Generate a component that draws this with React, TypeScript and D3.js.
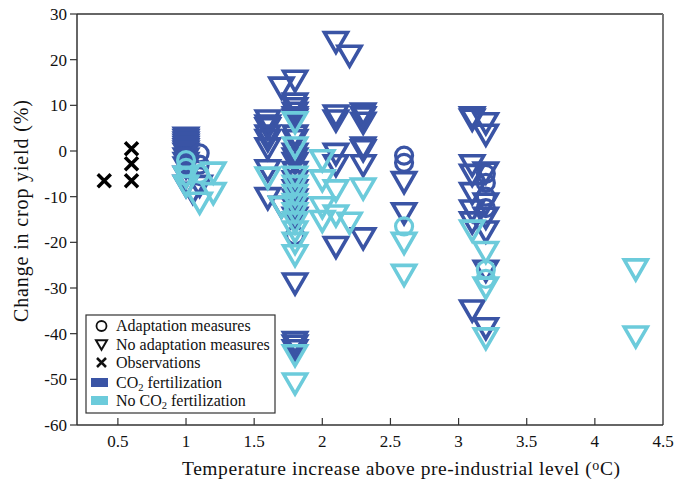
import React from "react";
import * as d3 from "d3";

// ---- data ----
const xTicks = [0.5, 1, 1.5, 2, 2.5, 3, 3.5, 4, 4.5];
const yTicks = [30, 20, 10, 0, -10, -20, -30, -40, -50, -60];

// Observations (black crosses) [temperature, change]
const observations: [number, number][] = [
  [0.4, -6.5], [0.6, 0.5], [0.6, -2.8], [0.6, -6.5],
];

// Adaptation measures + CO2 fertilization (dark circles)
const adaptCO2: [number, number][] = [
  [1.1, -0.5], [1.1, -3], [1.1, -5.5], [1.8, -18.5],
  [2.6, -1], [2.6, -2.6], [3.2, -5], [3.2, -7], [3.2, -10], [3.2, -12.5],
];

// Adaptation measures, no CO2 fertilization (cyan circles)
const adaptNoCO2: [number, number][] = [
  [1.0, -2], [1.0, -3.7], [1.0, -5.5], [1.1, -5],
  [2.6, -16.5], [3.2, -26], [3.2, -28],
];

// No adaptation + CO2 fertilization (dark triangles)
const noAdaptCO2: [number, number][] = [
  [1.0, 3.5], [1.0, 3], [1.0, 2.5], [1.0, 2], [1.0, 1.5], [1.0, 1], [1.0, 0.5], [1.0, 0],
  [1.0, -1], [1.0, -2], [1.0, -3], [1.0, -5], [1.0, -7], [1.05, -8.5], [1.1, -7],
  [1.6, 7.3], [1.6, 6.2], [1.6, 5.6], [1.6, 4], [1.6, 3], [1.6, 1.2], [1.6, -3.6], [1.6, -9.7],
  [1.7, 14.5], [1.7, -11.6],
  [1.8, 16], [1.8, 11], [1.8, 10], [1.8, 9], [1.8, 8], [1.8, 7.5], [1.8, 4], [1.8, 3],
  [1.8, 0], [1.8, -1], [1.8, -2], [1.8, -4], [1.8, -6], [1.8, -8], [1.8, -10], [1.8, -12],
  [1.8, -14], [1.8, -28.4], [1.8, -41.2], [1.8, -42], [1.8, -43],
  [2.1, 24.5], [2.1, 8.4], [2.1, 7.3], [2.1, 0], [2.1, -2.5], [2.1, -20.4],
  [2.2, 21.5],
  [2.3, 8.8], [2.3, 8], [2.3, 6.8], [2.3, 1.4], [2.3, 0.8], [2.3, -2.5], [2.3, -18.5],
  [2.6, -6.2], [2.6, -13],
  [3.1, 8], [3.1, 7.5], [3.1, -2.5], [3.1, -4.6], [3.1, -8.6], [3.1, -12.4], [3.1, -15], [3.1, -34.3],
  [3.2, 6.7], [3.2, 4.2], [3.2, -4.1], [3.2, -10.9], [3.2, -14], [3.2, -17], [3.2, -25.6], [3.2, -38.2],
];

// No adaptation, no CO2 fertilization (cyan triangles)
const noAdaptNoCO2: [number, number][] = [
  [1.0, -5], [1.0, -7], [1.1, -10.7], [1.2, -4.1], [1.2, -8.6],
  [1.6, -5.2], [1.7, -11.6],
  [1.8, 6.9], [1.8, 1.4], [1.8, -5], [1.8, -7], [1.8, -9], [1.8, -11], [1.8, -13],
  [1.8, -15], [1.8, -17], [1.8, -19.5], [1.8, -22.2], [1.8, -44.1], [1.8, -50.3],
  [2.0, -1.4], [2.0, -5.8], [2.0, -11.7], [2.0, -14.7],
  [2.1, -8], [2.1, -13.5], [2.2, -15.1], [2.3, -7.6],
  [2.6, -19.5], [2.6, -26.5],
  [3.1, -16.8], [3.2, -21.5], [3.2, -29.3], [3.2, -40.4],
  [4.3, -25.3], [4.3, -40],
];

const DARK = "#3a54a5";
const CYAN = "#6ccbdb";
const FONT = "'Liberation Serif', 'DejaVu Serif', serif";

const W = 681;
const H = 483;
const M = { left: 77, right: 663, top: 14, bottom: 425 };

const x = d3.scaleLinear().domain([0.2, 4.5]).range([M.left, M.right]);
const y = d3.scaleLinear().domain([-60, 30]).range([M.bottom, M.top]);

function triPath(cx: number, cy: number, s: number) {
  const h = (s * Math.sqrt(3)) / 2;
  return `M${cx - s / 2},${cy - h / 3}L${cx + s / 2},${cy - h / 3}L${cx},${cy + (2 * h) / 3}Z`;
}
function crossPath(cx: number, cy: number, r: number) {
  return `M${cx - r},${cy - r}L${cx + r},${cy + r}M${cx - r},${cy + r}L${cx + r},${cy - r}`;
}

export default function App() {
  const TS = 23;
  return (
    <svg width={W} height={H} style={{ position: "absolute", left: 0, top: 0, fontFamily: FONT }}>
      <rect x={0} y={0} width={W} height={H} fill="#fff" />
      {/* markers */}
      <g fill="none" strokeLinejoin="miter">
        {noAdaptCO2.map((d, i) => (
          <path key={"a" + i} d={triPath(x(d[0]), y(d[1]), TS)} stroke={DARK} strokeWidth={3.6} />
        ))}
        {adaptCO2.map((d, i) => (
          <circle key={"b" + i} cx={x(d[0])} cy={y(d[1])} r={8.5} stroke={DARK} strokeWidth={3.2} />
        ))}
        {noAdaptNoCO2.map((d, i) => (
          <path key={"c" + i} d={triPath(x(d[0]), y(d[1]), TS)} stroke={CYAN} strokeWidth={3.6} />
        ))}
        {adaptNoCO2.map((d, i) => (
          <circle key={"d" + i} cx={x(d[0])} cy={y(d[1])} r={8.5} stroke={CYAN} strokeWidth={3.2} />
        ))}
        {observations.map((d, i) => (
          <path key={"e" + i} d={crossPath(x(d[0]), y(d[1]), 6.5)} stroke="#000" strokeWidth={3.5} />
        ))}
      </g>

      {/* frame */}
      <line x1={M.left} x2={M.right} y1={M.top} y2={M.top} stroke="#333" strokeWidth={1.5} />
      <line x1={M.right} x2={M.right} y1={M.top} y2={M.bottom} stroke="#777" strokeWidth={2} />
      <line x1={M.left} x2={M.right} y1={M.bottom} y2={M.bottom} stroke="#333" strokeWidth={1.5} />
      <line x1={M.left} x2={M.left} y1={M.top} y2={M.bottom} stroke="#333" strokeWidth={1.5} />

      {/* y axis */}
      {yTicks.map((t) => (
        <g key={"y" + t}>
          <line x1={M.left - 7} x2={M.left} y1={y(t)} y2={y(t)} stroke="#333" strokeWidth={1.2} />
          <text x={M.left - 10} y={y(t)} dy="0.35em" textAnchor="end" fontSize={17} fill="#111">
            {t}
          </text>
        </g>
      ))}
      {/* x axis */}
      {xTicks.map((t) => (
        <g key={"x" + t}>
          {t < 4.5 && (
            <line x1={x(t)} x2={x(t)} y1={M.bottom - 7} y2={M.bottom} stroke="#333" strokeWidth={1.2} />
          )}
          <text x={x(t)} y={447} textAnchor="middle" fontSize={17} fill="#111">
            {t}
          </text>
        </g>
      ))}

      {/* axis titles */}
      <text x={182} y={475} fontSize={19.5} fill="#111" textLength={438}>
        Temperature increase above pre-industrial level (
        <tspan fontSize={14} dy={-5}>o</tspan>
        <tspan dy={5}>C)</tspan>
      </text>
      <text
        transform={`translate(28,211) rotate(-90)`}
        textAnchor="middle"
        fontSize={20}
        fill="#111"
        textLength={222}
      >
        Change in crop yield (%)
      </text>

      {/* legend */}
      <g>
        <rect x={86} y={315} width={189} height={98} fill="#fff" stroke="#333" strokeWidth={1.2} />
        <circle cx={101.5} cy={326} r={5} fill="none" stroke="#111" strokeWidth={1.8} />
        <path d={triPath(101.5, 343.5, 11)} fill="none" stroke="#111" strokeWidth={2} />
        <path d={crossPath(101.5, 362.5, 4.5)} stroke="#111" strokeWidth={2.5} />
        <rect x={91} y={378} width={17} height={9} fill={DARK} />
        <rect x={91} y={396} width={17} height={9} fill={CYAN} />
        <g fontSize={16} fill="#111">
          <text x={116} y={330.5}>Adaptation measures</text>
          <text x={116} y={349.5}>No adaptation measures</text>
          <text x={116} y={367.5}>Observations</text>
          <text x={116} y={388}>
            CO<tspan fontSize={10.5} dy={3}>2</tspan>
            <tspan dy={-3}> fertilization</tspan>
          </text>
          <text x={116} y={406}>
            No CO<tspan fontSize={10.5} dy={3}>2</tspan>
            <tspan dy={-3}> fertilization</tspan>
          </text>
        </g>
      </g>
    </svg>
  );
}
